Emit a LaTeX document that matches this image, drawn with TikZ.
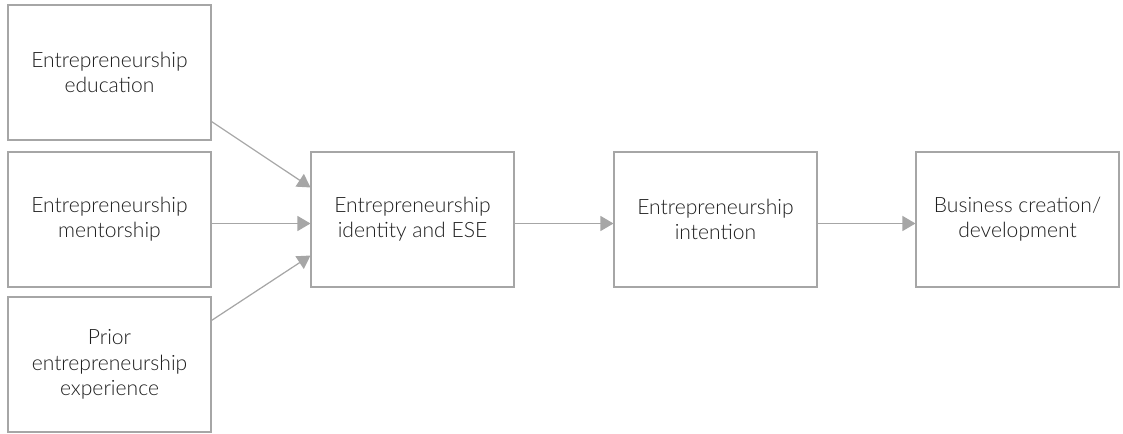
\documentclass[tikz,border=0pt]{standalone}
\usepackage{fontspec}
\setmainfont{Lato}[UprightFont=* Light]
\usepackage{tikz}
\usetikzlibrary{arrows.meta}
\definecolor{boxgray}{HTML}{A6A6A6}
\definecolor{textgray}{HTML}{1E1E1E}
\tikzstyle{block}=[draw=boxgray, line width=0.6pt, minimum width=4.06cm, minimum height=2.7cm, align=center, text=textgray, font=\fontsize{12}{14.4}\selectfont]
\tikzstyle{link}=[draw=boxgray, line width=0.7pt, -{Triangle[length=0.26cm, width=0.3cm]}]

\begin{document}
\begin{tikzpicture}
        \useasboundingbox (0, 0) rectangle (22.46, 8.66);
        \node[block] (edu) at (2.19, 7.21) {Entrepreneurship\\education};
        \node[block] (mentor) at (2.19, 4.27) {Entrepreneurship\\mentorship};
        \node[block] (prior) at (2.19, 1.37) {Prior\\entrepreneurship\\experience};
        \node[block] (ese) at (8.25, 4.27) {Entrepreneurship\\identity and ESE};
        \node[block] (intent) at (14.31, 4.27) {Entrepreneurship\\intention};
        \node[block] (biz) at (20.35, 4.27) {Business creation/\\development};
        \draw[link] ([yshift=0.38cm]edu.south east) -- ([yshift=-0.72cm]ese.north west);
        \draw[link] ([yshift=-0.08cm]mentor.east) -- ([yshift=-0.08cm]ese.west);
        \draw[link] ([yshift=-0.48cm]prior.north east) -- ([yshift=0.64cm]ese.south west);
        \draw[link] ([yshift=-0.08cm]ese.east) -- ([yshift=-0.08cm]intent.west);
        \draw[link] ([yshift=-0.08cm]intent.east) -- ([yshift=-0.08cm]biz.west);
    \end{tikzpicture}
\end{document}
